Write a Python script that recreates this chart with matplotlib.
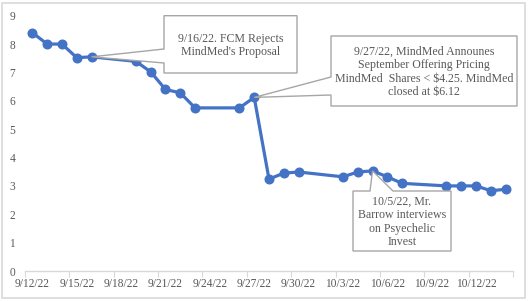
import matplotlib
matplotlib.use("Agg")
import matplotlib.pyplot as plt
import matplotlib.dates as mdates
from matplotlib.patches import Polygon, Rectangle
import pandas as pd
import numpy as np

dates = ["2022-09-12", "2022-09-13", "2022-09-14", "2022-09-15", "2022-09-16",
         "2022-09-19", "2022-09-20", "2022-09-21", "2022-09-22", "2022-09-23",
         "2022-09-26", "2022-09-27", "2022-09-28", "2022-09-29", "2022-09-30",
         "2022-10-03", "2022-10-04", "2022-10-05", "2022-10-06", "2022-10-07",
         "2022-10-10", "2022-10-11", "2022-10-12", "2022-10-13", "2022-10-14"]
prices = [8.40, 8.00, 8.00, 7.52, 7.55,
          7.39, 7.02, 6.40, 6.28, 5.75,
          5.75, 6.12, 3.24, 3.45, 3.49,
          3.32, 3.49, 3.53, 3.32, 3.09,
          3.00, 3.00, 3.00, 2.83, 2.88]
tick_dates = ["2022-09-12", "2022-09-15", "2022-09-18", "2022-09-21", "2022-09-24",
              "2022-09-27", "2022-09-30", "2022-10-03", "2022-10-06", "2022-10-09",
              "2022-10-12"]
tick_labels = ["9/12/22", "9/15/22", "9/18/22", "9/21/22", "9/24/22", "9/27/22",
               "9/30/22", "10/3/22", "10/6/22", "10/9/22", "10/12/22"]
callout_texts = ["9/16/22. FCM Rejects\nMindMed's Proposal",
                 "9/27/22, MindMed Announes\nSeptember Offering Pricing\nMindMed  Shares < $4.25. MindMed\nclosed at $6.12",
                 "10/5/22, Mr.\nBarrow interviews\non Psyechelic\nInvest"]
callout_dates = ["2022-09-16", "2022-09-27", "2022-10-05"]
callout_values = [7.55, 6.12, 3.53]

W, H = 528, 301
fig = plt.figure(figsize=(W / 100, H / 100), dpi=100)
fig.patch.set_facecolor("white")
fig.patches.append(Rectangle((2 / W, 3 / H), 523 / W, 295 / H, transform=fig.transFigure,
                             fill=False, edgecolor="#d9d9d9", lw=1.2))

L, R, T, B = 25, 513, 15.7, 271
ax = fig.add_axes([L / W, 1 - B / H, (R - L) / W, (B - T) / H])
ax.set_facecolor("none")

x = mdates.date2num(pd.to_datetime(dates))
ax.plot(x, prices, color="#4472C4", lw=2.3, marker="o", ms=6.2, zorder=3,
        solid_joinstyle="round")

x0 = x[0] - 0.5
x1 = x[-1] + 0.5
ax.set_xlim(x0, x1)
ax.set_ylim(0, 9)

serif = "Liberation Serif"
tcol = "#595959"
ax.set_yticks(range(0, 10))
ax.set_yticklabels([str(i) for i in range(10)], fontfamily=serif, fontsize=8.3, color=tcol)
ax.tick_params(axis="y", length=0, pad=7)

tx = mdates.date2num(pd.to_datetime(tick_dates))
ax.set_xticks(list(tx - 0.5) + [x1])
ax.set_xticklabels([])
ax.set_xticks(tx, minor=True)
ax.set_xticklabels(tick_labels, minor=True, fontfamily=serif, fontsize=8.3, color=tcol)
ax.tick_params(axis="x", which="major", length=4, color="#d9d9d9", direction="out")
ax.tick_params(axis="x", which="minor", length=0, pad=5)

for s in ["top", "right", "left"]:
    ax.spines[s].set_visible(False)
ax.spines["bottom"].set_color("#d9d9d9")
ax.spines["bottom"].set_linewidth(1)

to_ax = ax.transData + ax.transAxes.inverted()

def axf(px, py):
    return ((px - L) / (R - L), (B - py) / (B - T))

# callout boxes (pixel extents) and wedge bases
boxes = [
    dict(x0=164, x1=297, y0=15.7, y1=73, side="left", b0=49, b1=63),
    dict(x0=331, x1=517, y0=36, y1=106, side="left", b0=77, b1=95),
    dict(x0=353, x1=451, y0=191, y1=251, side="top", b0=370, b1=393),
]
ecol = "#a6a6a6"
for i, bx in enumerate(boxes):
    px, py = to_ax.transform((mdates.date2num(pd.Timestamp(callout_dates[i])), callout_values[i]))
    tip = (px, py)
    a, b, c, d = bx["x0"], bx["x1"], bx["y0"], bx["y1"]
    if bx["side"] == "left":
        pts = [axf(a, c), axf(b, c), axf(b, d), axf(a, d), axf(a, bx["b1"]), tip,
               axf(a, bx["b0"])]
    else:
        pts = [axf(a, c), axf(bx["b0"], c), tip, axf(bx["b1"], c), axf(b, c), axf(b, d),
               axf(a, d)]
    poly = Polygon(pts, closed=True, transform=ax.transAxes, facecolor="white",
                   edgecolor=ecol, lw=1.0, zorder=4, clip_on=False)
    ax.add_patch(poly)
    cx, cy = axf((a + b) / 2, (c + d) / 2 + 1)
    ax.text(cx, cy, callout_texts[i], transform=ax.transAxes, ha="center", va="center",
            fontfamily=serif, fontsize=8.6, color=tcol, zorder=5, linespacing=1.18)

fig.savefig("out.png", dpi=100, facecolor="white")
